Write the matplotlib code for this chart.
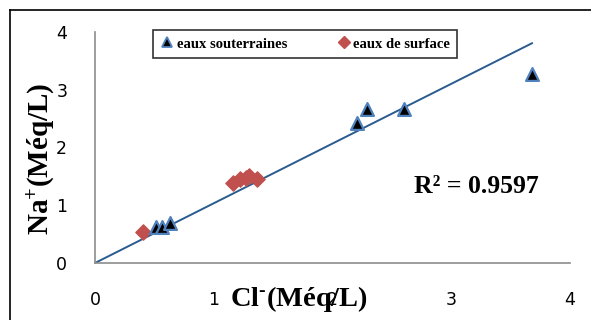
import numpy as np
import matplotlib.pyplot as plt
from matplotlib.lines import Line2D

# groundwater samples (Cl-, Na+) in meq/L
gw_cl = [0.51, 0.56, 0.63, 2.21, 2.29, 2.60, 3.68]
gw_na = [0.62, 0.62, 0.70, 2.42, 2.67, 2.66, 3.27]
# surface water samples
sw_cl = [0.40, 1.16, 1.22, 1.27, 1.30, 1.36]
sw_na = [0.53, 1.38, 1.45, 1.48, 1.50, 1.45]

x_ticks = [0, 1, 2, 3, 4]
y_ticks = [0, 1, 2, 3, 4]
r2_label = "R² = 0.9597"

serif = ['Liberation Serif', 'DejaVu Serif']
plt.rcParams['mathtext.fontset'] = 'custom'
plt.rcParams['mathtext.rm'] = 'Liberation Serif:bold'
plt.rcParams['mathtext.it'] = 'Liberation Serif:bold'
plt.rcParams['mathtext.bf'] = 'Liberation Serif:bold'

fig = plt.figure(figsize=(5.91, 3.2), dpi=100)
ax = fig.add_axes([95 / 591, 57 / 320, 475 / 591, 231 / 320])

# linear trend forced through the origin, over all samples
all_x = np.array(gw_cl + sw_cl)
all_y = np.array(gw_na + sw_na)
slope = (all_x * all_y).sum() / (all_x ** 2).sum()
xs = np.array([0, all_x.max()])
ax.plot(xs, slope * xs, color='#2A5B8F', lw=1.4, zorder=2)

ax.scatter(sw_cl, sw_na, marker='D', s=60, color='#C0504D', zorder=3)
ax.scatter(gw_cl, gw_na, marker='^', s=85, color='black',
           edgecolors='#4F81BD', linewidths=1.6, zorder=4)

ax.set_xlim(0, 4)
ax.set_ylim(0, 4)
ax.set_xticks(x_ticks)
ax.set_yticks(y_ticks)
ax.tick_params(length=0, labelsize=12.5)
ax.tick_params(axis='x', pad=20)
ax.tick_params(axis='y', pad=20)
for s in ['top', 'right']:
    ax.spines[s].set_visible(False)
for s in ['left', 'bottom']:
    ax.spines[s].set_color('#8C8C8C')
    ax.spines[s].set_linewidth(1.2)

ax.set_ylabel(r'Na$^{+}$(Méq/L)', family=serif, fontweight='bold', fontsize=21)
ax.yaxis.set_label_coords(-0.08, 0.45)
ax.set_xlabel(r'Cl$^{\text{-}}$(Méq/L)', family=serif, fontweight='bold', fontsize=20.5)
ax.xaxis.set_label_coords(0.43, -0.09)

ax.text(0.672, 0.33, r2_label, transform=ax.transAxes, family=serif,
        fontweight='bold', fontsize=18.5, ha='left', va='center')

handles = [
    Line2D([], [], ls='', marker='^', ms=7, color='black',
           markeredgecolor='#4F81BD', markeredgewidth=1.3, label='eaux souterraines'),
    Line2D([], [], ls='', marker='D', ms=6, color='#C0504D', label='eaux de surface'),
]
leg = fig.legend(handles=handles, loc='center', bbox_to_anchor=(305 / 591, 1 - 44 / 320),
                 ncol=2, prop={'family': serif, 'weight': 'bold', 'size': 10.5},
                 frameon=True, fancybox=False, handletextpad=0.15, columnspacing=3.4,
                 handlelength=1.0, borderpad=0.5, borderaxespad=0)
leg.get_frame().set_edgecolor('black')
leg.get_frame().set_linewidth(1.2)

# outer frame of the figure box and the cut caption above it
fig.add_artist(Line2D([10 / 591, 10 / 591], [0, 1 - 10 / 320], color='black', lw=1.2))
fig.add_artist(Line2D([10 / 591, 1], [1 - 10 / 320, 1 - 10 / 320], color='black', lw=1.2))
fig.text(0.0, 1.015, '10 Na / Cl', family=serif, fontweight='bold', fontsize=14,
         ha='left', va='center')

fig.savefig('out.png', dpi=100)
